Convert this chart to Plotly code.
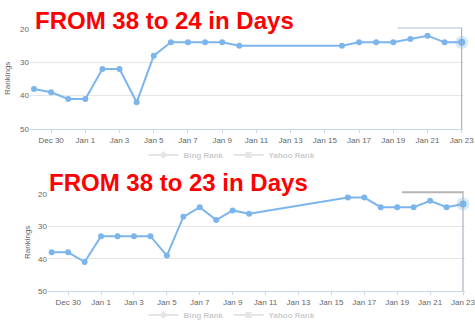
import plotly.graph_objects as go

# ---- data ----
dates = ["2017-12-29", "2017-12-30", "2017-12-31", "2018-01-01", "2018-01-02",
         "2018-01-03", "2018-01-04", "2018-01-05", "2018-01-06", "2018-01-07",
         "2018-01-08", "2018-01-09", "2018-01-10", "2018-01-16", "2018-01-17",
         "2018-01-18", "2018-01-19", "2018-01-20", "2018-01-21", "2018-01-22",
         "2018-01-23"]
rank_top = [38, 39, 41, 41, 32, 32, 42, 28, 24, 24, 24, 24, 25,
            25, 24, 24, 24, 23, 22, 24, 24]
rank_bottom = [38, 38, 41, 33, 33, 33, 33, 39, 27, 24, 28, 25, 26,
               21, 21, 24, 24, 24, 22, 24, 23]
title_top = "FROM 38 to 24 in Days"
title_bottom = "FROM 38 to 23 in Days"
legend_names = ["Bing Rank", "Yahoo Rank"]
legend_symbols = ["diamond", "square"]
y_ticks = [20, 30, 40, 50]

W, H = 475, 320
LINE = "#7cb5ec"
FONT = "Liberation Sans, Arial, sans-serif"

def px(x):
    return x / W

def py(y):
    return (H - y) / H

fig = go.Figure()

panels = [
    dict(ranks=rank_top, xa="x", ya="y", xdom=[px(30), px(463)], ydom=[py(129), py(29)],
         xrange=["2017-12-28 18:24", "2018-01-23 01:50"], legend="legend"),
    dict(ranks=rank_bottom, xa="x2", ya="y2", xdom=[px(48), px(465)], ydom=[py(291), py(194.3)],
         xrange=["2017-12-28 18:36", "2018-01-23 02:55"], legend="legend2"),
]

for i, p in enumerate(panels):
    # main series
    fig.add_trace(go.Scatter(
        x=dates, y=p["ranks"], mode="lines+markers", xaxis=p["xa"], yaxis=p["ya"],
        line=dict(color=LINE, width=2), marker=dict(color=LINE, size=6),
        showlegend=False, hoverinfo="skip", cliponaxis=False))
    # hover halo on last point
    fig.add_trace(go.Scatter(
        x=[dates[-1]], y=[p["ranks"][-1]], mode="markers", xaxis=p["xa"], yaxis=p["ya"],
        marker=dict(color="rgba(124,181,236,0.3)", size=13), showlegend=False,
        hoverinfo="skip", cliponaxis=False))
    fig.add_trace(go.Scatter(
        x=[dates[-1]], y=[p["ranks"][-1]], mode="markers", xaxis=p["xa"], yaxis=p["ya"],
        marker=dict(color=LINE, size=7), showlegend=False, hoverinfo="skip", cliponaxis=False))
    # hidden legend series
    for name, sym in zip(legend_names, legend_symbols):
        fig.add_trace(go.Scatter(
            x=[None], y=[None], name=name, mode="lines+markers", xaxis=p["xa"], yaxis=p["ya"],
            line=dict(color="#cccccc", width=2), marker=dict(color="#cccccc", symbol=sym, size=6),
            legend=p["legend"], visible="legendonly", showlegend=True))

axis_common_x = dict(
    type="date", tickformat="%b %-d", dtick=2 * 86400000, tick0="2017-12-30",
    showgrid=False, showline=True, linecolor="#ccd6eb", linewidth=1,
    ticks="outside", ticklen=3, tickcolor="#ccd6eb", automargin=False,
    ticklabeloverflow="allow",
    tickfont=dict(size=8, color="#666666", family=FONT), zeroline=False, fixedrange=True)
axis_common_y = dict(
    range=[50, 20], tickvals=y_ticks, showgrid=True, gridcolor="#e6e6e6", gridwidth=1,
    showline=False, zeroline=False, ticks="", automargin=False,
    tickfont=dict(size=8, color="#666666", family=FONT), fixedrange=True)

legend_font = dict(size=8, color="#999999", family=FONT, weight="bold")

fig.update_layout(
    width=W, height=H, margin=dict(l=0, r=0, t=0, b=0, autoexpand=False),
    paper_bgcolor="white", plot_bgcolor="white",
    font=dict(family=FONT),
    xaxis=dict(domain=panels[0]["xdom"], range=panels[0]["xrange"], anchor="y", **axis_common_x),
    yaxis=dict(domain=panels[0]["ydom"], anchor="x", **axis_common_y),
    xaxis2=dict(domain=panels[1]["xdom"], range=panels[1]["xrange"], anchor="y2", **axis_common_x),
    yaxis2=dict(domain=panels[1]["ydom"], anchor="x2", **axis_common_y),
    legend=dict(orientation="h", x=px(232), xanchor="center", y=py(155), yanchor="middle",
                font=legend_font, itemwidth=30, bgcolor="rgba(0,0,0,0)"),
    legend2=dict(orientation="h", x=px(232), xanchor="center", y=py(315), yanchor="middle",
                 font=legend_font, itemwidth=30, bgcolor="rgba(0,0,0,0)"),
    showlegend=True,
)

# titles
fig.add_annotation(text="<b>" + title_top + "</b>", xref="paper", yref="paper",
                   x=px(33), y=py(20.5), xanchor="left", yanchor="middle", showarrow=False,
                   font=dict(size=24, color="#ff0000", family=FONT))
fig.add_annotation(text="<b>" + title_bottom + "</b>", xref="paper", yref="paper",
                   x=px(47), y=py(182), xanchor="left", yanchor="middle", showarrow=False,
                   font=dict(size=24, color="#ff0000", family=FONT))
# axis titles
fig.add_annotation(text="Rankings", xref="paper", yref="paper", x=px(8), y=py(79),
                   xanchor="center", yanchor="middle",
                   textangle=-90, showarrow=False, font=dict(size=8, color="#666666", family=FONT))
fig.add_annotation(text="Rankings", xref="paper", yref="paper", x=px(27), y=py(243),
                   xanchor="center", yanchor="middle",
                   textangle=-90, showarrow=False, font=dict(size=8, color="#666666", family=FONT))

# crosshair / tooltip remnants
fig.add_shape(type="line", xref="x", yref="paper", x0=dates[-1], x1=dates[-1],
              y0=py(129), y1=py(28), line=dict(color="#9aa5b1", width=1))
fig.add_shape(type="line", xref="x", yref="paper", x0="2018-01-19 06:00", x1=dates[-1],
              y0=py(28), y1=py(28), line=dict(color="#a9bfd6", width=1))
fig.add_shape(type="line", xref="x2", yref="paper", x0=dates[-1], x1=dates[-1],
              y0=py(291), y1=py(191), line=dict(color="#9aa5b1", width=1))
fig.add_shape(type="line", xref="x2", yref="paper", x0="2018-01-19 07:00", x1=dates[-1],
              y0=py(192.3), y1=py(192.3), line=dict(color="#b5b5b5", width=2))

fig.write_html("out.html")
